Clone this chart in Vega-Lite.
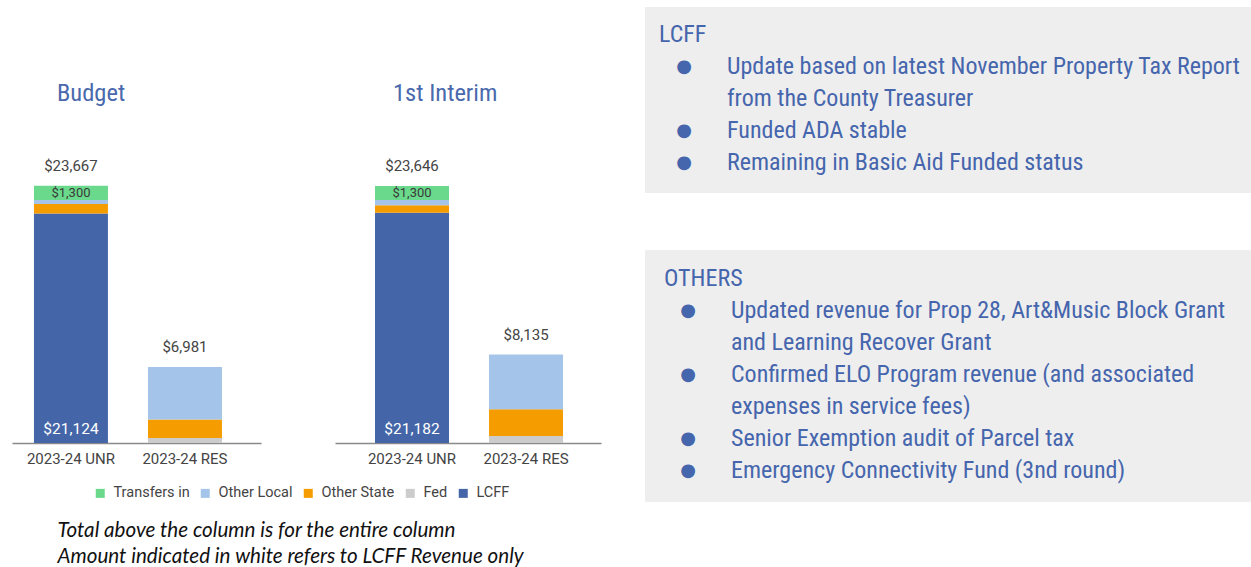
{
  "$schema": "https://vega.github.io/schema/vega-lite/v6.json",
  "padding": {"left": 12, "top": 7, "right": 0, "bottom": 0},
  "background": "white",
  "bounds": "full",
  "spacing": 44,
  "config": {"view": {"stroke": null}, "font": "Roboto"},
  "datasets": {
    "segments": [
      {"panel": "Budget", "col": "2023-24 UNR", "series": "LCFF", "rank": 1, "value": 21124},
      {"panel": "Budget", "col": "2023-24 UNR", "series": "Fed", "rank": 2, "value": 0},
      {"panel": "Budget", "col": "2023-24 UNR", "series": "Other State", "rank": 3, "value": 860},
      {"panel": "Budget", "col": "2023-24 UNR", "series": "Other Local", "rank": 4, "value": 383},
      {"panel": "Budget", "col": "2023-24 UNR", "series": "Transfers in", "rank": 5, "value": 1300},
      {"panel": "Budget", "col": "2023-24 RES", "series": "LCFF", "rank": 1, "value": 0},
      {"panel": "Budget", "col": "2023-24 RES", "series": "Fed", "rank": 2, "value": 460},
      {"panel": "Budget", "col": "2023-24 RES", "series": "Other State", "rank": 3, "value": 1700},
      {"panel": "Budget", "col": "2023-24 RES", "series": "Other Local", "rank": 4, "value": 4821},
      {"panel": "Budget", "col": "2023-24 RES", "series": "Transfers in", "rank": 5, "value": 0},
      {"panel": "1st Interim", "col": "2023-24 UNR", "series": "LCFF", "rank": 1, "value": 21182},
      {"panel": "1st Interim", "col": "2023-24 UNR", "series": "Fed", "rank": 2, "value": 0},
      {"panel": "1st Interim", "col": "2023-24 UNR", "series": "Other State", "rank": 3, "value": 700},
      {"panel": "1st Interim", "col": "2023-24 UNR", "series": "Other Local", "rank": 4, "value": 464},
      {"panel": "1st Interim", "col": "2023-24 UNR", "series": "Transfers in", "rank": 5, "value": 1300},
      {"panel": "1st Interim", "col": "2023-24 RES", "series": "LCFF", "rank": 1, "value": 0},
      {"panel": "1st Interim", "col": "2023-24 RES", "series": "Fed", "rank": 2, "value": 640},
      {"panel": "1st Interim", "col": "2023-24 RES", "series": "Other State", "rank": 3, "value": 2460},
      {"panel": "1st Interim", "col": "2023-24 RES", "series": "Other Local", "rank": 4, "value": 5035},
      {"panel": "1st Interim", "col": "2023-24 RES", "series": "Transfers in", "rank": 5, "value": 0}
    ],
    "totals": [
      {"panel": "Budget", "col": "2023-24 UNR", "total": 23667},
      {"panel": "Budget", "col": "2023-24 RES", "total": 6981},
      {"panel": "1st Interim", "col": "2023-24 UNR", "total": 23646},
      {"panel": "1st Interim", "col": "2023-24 RES", "total": 8135}
    ],
    "notes": [
      {"box": "LCFF", "line": 0, "level": 0, "bullet": false, "text": "LCFF"},
      {"box": "LCFF", "line": 1, "level": 1, "bullet": true, "text": "Update based on latest November Property Tax Report"},
      {"box": "LCFF", "line": 2, "level": 1, "bullet": false, "text": "from the County Treasurer"},
      {"box": "LCFF", "line": 3, "level": 1, "bullet": true, "text": "Funded ADA stable"},
      {"box": "LCFF", "line": 4, "level": 1, "bullet": true, "text": "Remaining in Basic Aid Funded status"},
      {"box": "OTHERS", "line": 0, "level": 0, "bullet": false, "text": "OTHERS"},
      {"box": "OTHERS", "line": 1, "level": 1, "bullet": true, "text": "Updated revenue for Prop 28, Art&Music Block Grant"},
      {"box": "OTHERS", "line": 2, "level": 1, "bullet": false, "text": "and Learning Recover Grant"},
      {"box": "OTHERS", "line": 3, "level": 1, "bullet": true, "text": "Confirmed ELO Program revenue (and associated"},
      {"box": "OTHERS", "line": 4, "level": 1, "bullet": false, "text": "expenses in service fees)"},
      {"box": "OTHERS", "line": 5, "level": 1, "bullet": true, "text": "Senior Exemption audit of Parcel tax"},
      {"box": "OTHERS", "line": 6, "level": 1, "bullet": true, "text": "Emergency Connectivity Fund (3nd round)"}
    ]
  },
  "resolve": {"scale": {"x": "independent", "y": "independent", "color": "shared"}},
  "hconcat": [
    {
      "bounds": "flush",
      "spacing": 74,
      "resolve": {"scale": {"x": "independent", "y": "independent", "color": "shared"}},
      "hconcat": [
        {
          "width": 249,
          "height": 436,
          "title": {"text": "Budget", "anchor": "start", "frame": "group", "dx": 45, "dy": 103, "offset": 4, "font": "Roboto Condensed", "fontSize": 24.5, "fontWeight": "normal", "color": "#4a69ad"},
          "encoding": {
            "x": {"field": "col", "type": "nominal", "sort": ["2023-24 UNR", "2023-24 RES"],
              "scale": {"paddingInner": 0.351, "paddingOuter": 0.2675, "align": 0.36},
              "axis": {"labelAngle": 0, "ticks": false, "tickSize": 0, "domainColor": "#8a8a8a", "domainWidth": 1.5, "labelFont": "Roboto", "labelFontSize": 15, "labelColor": "#444444", "labelPadding": 8,
                "title": ["Total above the column is for the entire column", "Amount indicated in white refers to LCFF Revenue only"],
                "titleX": 45, "titleY": 93, "titleAlign": "left", "titleAnchor": "start", "titleBaseline": "alphabetic", "titleFont": "Lato", "titleFontStyle": "italic", "titleFontWeight": "normal", "titleFontSize": 20.6, "titleColor": "#111111", "titleLineHeight": 26}}
          },
          "layer": [
            {
              "data": {"name": "segments"},
              "transform": [{"filter": "datum.panel === 'Budget'"}],
              "mark": {"type": "bar"},
              "encoding": {
                "y": {"field": "value", "type": "quantitative", "stack": "zero", "scale": {"domain": [0, 40112], "nice": false}, "axis": null},
                "color": {"field": "series", "type": "nominal",
                  "scale": {"domain": ["Transfers in", "Other Local", "Other State", "Fed", "LCFF"], "range": ["#6ad98b", "#a4c5e9", "#f59c00", "#cccccc", "#4466a8"]},
                  "legend": {"orient": "none", "legendX": 81, "legendY": 479, "direction": "horizontal", "title": null, "symbolType": "square", "symbolSize": 81, "symbolStrokeWidth": 0, "labelFont": "Roboto", "labelFontSize": 14.5, "labelColor": "#444444", "columnPadding": 8, "labelOffset": 6}},
                "order": {"field": "rank", "type": "quantitative"}
              }
            },
            {
              "data": {"name": "segments"},
              "transform": [{"filter": "datum.panel === 'Budget'"}],
              "mark": {"type": "text", "baseline": "middle", "dy": 7, "font": "Roboto", "fontSize": 13, "color": "#3a3a3a"},
              "encoding": {
                "y": {"field": "value", "type": "quantitative", "stack": "zero", "axis": null},
                "detail": {"field": "series"},
                "order": {"field": "rank", "type": "quantitative"},
                "text": {"condition": {"test": "datum.series === 'Transfers in' && datum.value > 0", "field": "value", "format": "$,.0f"}, "value": ""}
              }
            },
            {
              "data": {"name": "segments"},
              "transform": [{"filter": "datum.panel === 'Budget' && datum.series === 'LCFF' && datum.value > 0"}],
              "mark": {"type": "text", "baseline": "middle", "dy": -14, "font": "Roboto", "fontSize": 15.5, "color": "#ffffff"},
              "encoding": {
                "y": {"datum": 0, "type": "quantitative", "axis": null},
                "text": {"field": "value", "type": "quantitative", "format": "$,.0f"}
              }
            },
            {
              "data": {"name": "totals"},
              "transform": [{"filter": "datum.panel === 'Budget'"}],
              "mark": {"type": "text", "baseline": "middle", "dy": -20, "font": "Roboto", "fontSize": 15, "color": "#444444"},
              "encoding": {
                "y": {"field": "total", "type": "quantitative", "axis": null},
                "text": {"field": "total", "type": "quantitative", "format": "$,.0f"}
              }
            }
          ]
        },
        {
          "width": 266,
          "height": 436,
          "title": {"text": "1st Interim", "anchor": "start", "frame": "group", "dx": 58, "dy": 103, "offset": 4, "font": "Roboto Condensed", "fontSize": 24.5, "fontWeight": "normal", "color": "#4a69ad"},
          "encoding": {
            "x": {"field": "col", "type": "nominal", "sort": ["2023-24 UNR", "2023-24 RES"],
              "scale": {"paddingInner": 0.351, "paddingOuter": 0.342, "align": 0.513},
              "axis": {"labelAngle": 0, "ticks": false, "tickSize": 0, "domainColor": "#8a8a8a", "domainWidth": 1.5, "labelFont": "Roboto", "labelFontSize": 15, "labelColor": "#444444", "labelPadding": 8, "title": null}}
          },
          "layer": [
            {
              "data": {"name": "segments"},
              "transform": [{"filter": "datum.panel === '1st Interim'"}],
              "mark": {"type": "bar"},
              "encoding": {
                "y": {"field": "value", "type": "quantitative", "stack": "zero", "scale": {"domain": [0, 40112], "nice": false}, "axis": null},
                "color": {"field": "series", "type": "nominal",
                  "scale": {"domain": ["Transfers in", "Other Local", "Other State", "Fed", "LCFF"], "range": ["#6ad98b", "#a4c5e9", "#f59c00", "#cccccc", "#4466a8"]},
                  "legend": {"orient": "none", "legendX": 81, "legendY": 479, "direction": "horizontal", "title": null, "symbolType": "square", "symbolSize": 81, "symbolStrokeWidth": 0, "labelFont": "Roboto", "labelFontSize": 14.5, "labelColor": "#444444", "columnPadding": 8, "labelOffset": 6}},
                "order": {"field": "rank", "type": "quantitative"}
              }
            },
            {
              "data": {"name": "segments"},
              "transform": [{"filter": "datum.panel === '1st Interim'"}],
              "mark": {"type": "text", "baseline": "middle", "dy": 7, "font": "Roboto", "fontSize": 13, "color": "#3a3a3a"},
              "encoding": {
                "y": {"field": "value", "type": "quantitative", "stack": "zero", "axis": null},
                "detail": {"field": "series"},
                "order": {"field": "rank", "type": "quantitative"},
                "text": {"condition": {"test": "datum.series === 'Transfers in' && datum.value > 0", "field": "value", "format": "$,.0f"}, "value": ""}
              }
            },
            {
              "data": {"name": "segments"},
              "transform": [{"filter": "datum.panel === '1st Interim' && datum.series === 'LCFF' && datum.value > 0"}],
              "mark": {"type": "text", "baseline": "middle", "dy": -14, "font": "Roboto", "fontSize": 15.5, "color": "#ffffff"},
              "encoding": {
                "y": {"datum": 0, "type": "quantitative", "axis": null},
                "text": {"field": "value", "type": "quantitative", "format": "$,.0f"}
              }
            },
            {
              "data": {"name": "totals"},
              "transform": [{"filter": "datum.panel === '1st Interim'"}],
              "mark": {"type": "text", "baseline": "middle", "dy": -20, "font": "Roboto", "fontSize": 15, "color": "#444444"},
              "encoding": {
                "y": {"field": "total", "type": "quantitative", "axis": null},
                "text": {"field": "total", "type": "quantitative", "format": "$,.0f"}
              }
            }
          ]
        }
      ]
    },
    {
      "bounds": "flush",
      "spacing": 57,
      "resolve": {"scale": {"x": "independent", "y": "independent"}},
      "vconcat": [
        {
          "width": 606,
          "height": 186,
          "view": {"fill": "#eeeeee", "stroke": null},
          "data": {"name": "notes"},
          "transform": [{"filter": "datum.box === 'LCFF'"}],
          "encoding": {
            "x": {"field": "level", "type": "quantitative", "scale": {"domain": [0, 1], "range": [14, 82]}, "axis": null},
            "y": {"field": "line", "type": "quantitative", "scale": {"domain": [0, 6], "range": [28, 220]}, "axis": null}
          },
          "layer": [
            {"mark": {"type": "text", "align": "left", "baseline": "middle", "font": "Roboto Condensed", "fontSize": 24, "color": "#4565ad"}, "encoding": {"text": {"field": "text"}}},
            {"transform": [{"filter": "datum.bullet"}], "mark": {"type": "text", "align": "center", "baseline": "middle", "dx": -43, "font": "DejaVu Sans", "fontSize": 18, "color": "#4565ad", "text": "●"}}
          ]
        },
        {
          "width": 606,
          "height": 252,
          "view": {"fill": "#eeeeee", "stroke": null},
          "data": {"name": "notes"},
          "transform": [{"filter": "datum.box === 'OTHERS'"}],
          "encoding": {
            "x": {"field": "level", "type": "quantitative", "scale": {"domain": [0, 1], "range": [19, 86]}, "axis": null},
            "y": {"field": "line", "type": "quantitative", "scale": {"domain": [0, 6], "range": [29, 221]}, "axis": null}
          },
          "layer": [
            {"mark": {"type": "text", "align": "left", "baseline": "middle", "font": "Roboto Condensed", "fontSize": 24, "color": "#4565ad"}, "encoding": {"text": {"field": "text"}}},
            {"transform": [{"filter": "datum.bullet"}], "mark": {"type": "text", "align": "center", "baseline": "middle", "dx": -43, "font": "DejaVu Sans", "fontSize": 18, "color": "#4565ad", "text": "●"}}
          ]
        }
      ]
    }
  ]
}
